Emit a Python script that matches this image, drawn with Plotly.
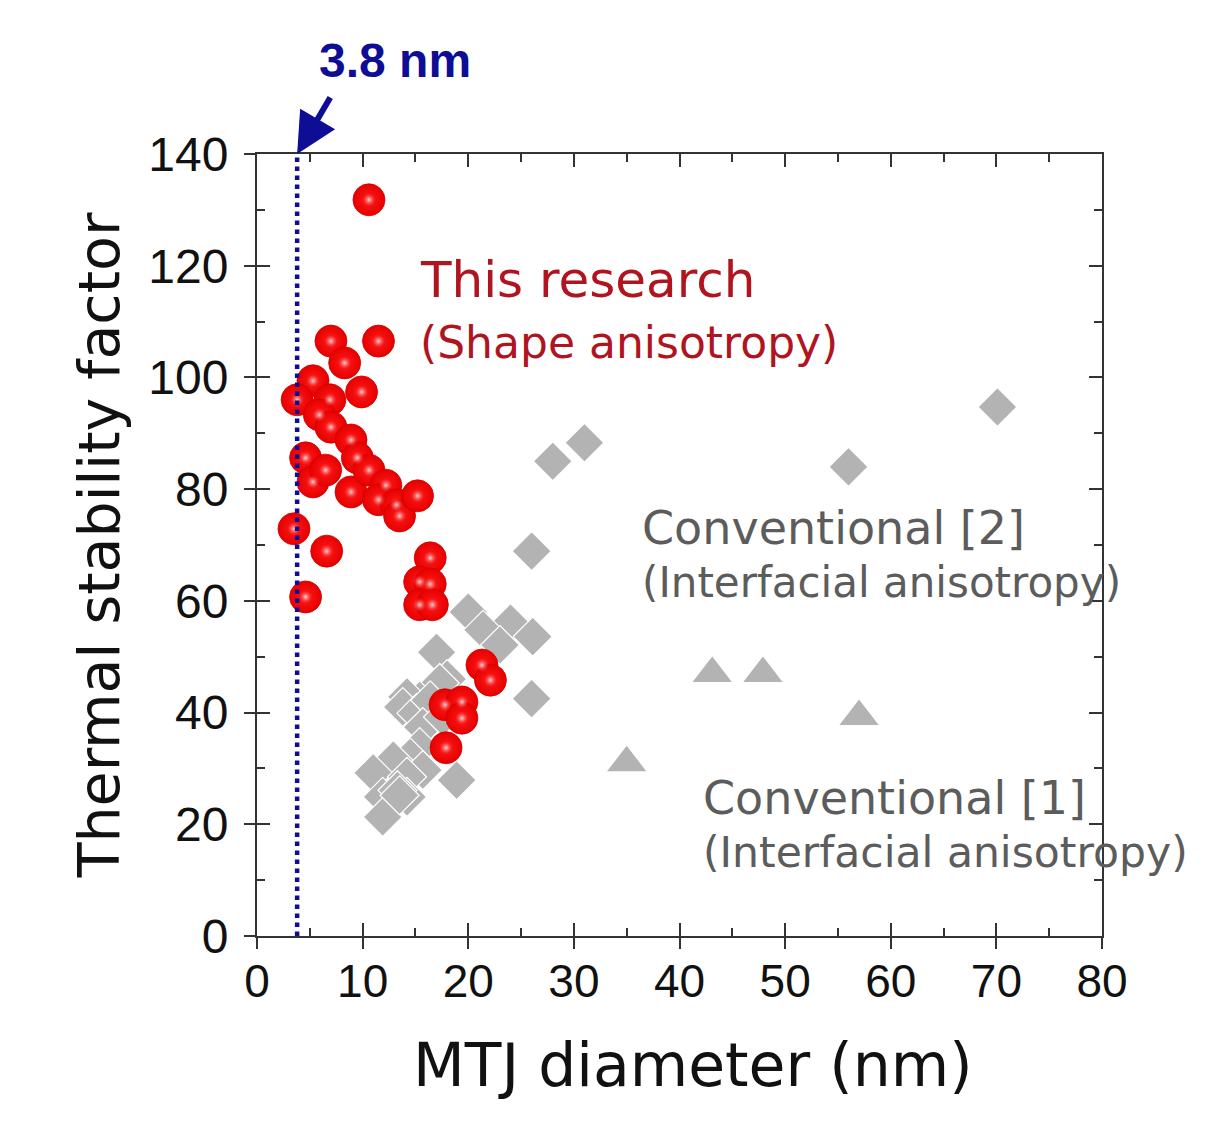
import plotly.graph_objects as go

# ---- data ----
this_research_x = [10.6, 7.0, 11.5, 8.3, 9.9, 5.3, 3.8, 6.9, 5.9, 7.0, 8.9, 9.5, 4.6, 5.3, 6.5,
                   8.9, 10.6, 12.2, 11.5, 13.2, 13.5, 15.2, 3.5, 6.6, 16.4, 15.4, 16.4, 15.4,
                   16.6, 4.6, 21.3, 22.1, 17.8, 19.4, 19.4, 17.9]
this_research_y = [131.8, 106.5, 106.5, 102.6, 97.4, 99.4, 96.0, 96.0, 93.3, 91.1, 88.8, 85.6,
                   85.6, 81.3, 83.4, 79.5, 83.4, 80.7, 78.1, 77.2, 75.2, 78.8, 72.9, 68.9,
                   67.7, 63.4, 63.0, 59.3, 59.3, 60.7, 48.5, 45.8, 41.4, 41.9, 39.0, 33.7]

conv2_x = [70.1, 56.0, 31.0, 28.0, 26.0, 20.0, 24.0, 21.4, 26.1, 23.0, 17.0, 18.0, 26.0, 17.3,
           15.4, 14.2, 13.8, 15.1, 16.4, 15.7, 17.6, 15.4, 14.5, 12.9, 11.0, 15.7, 14.2, 18.9,
           11.9, 14.2, 11.9, 13.3, 13.5]
conv2_y = [94.7, 84.0, 88.3, 85.0, 68.9, 58.0, 56.0, 54.8, 53.6, 52.1, 50.8, 46.0, 42.5, 45.3,
           42.2, 42.8, 41.0, 39.9, 42.2, 37.4, 39.2, 33.8, 32.0, 31.5, 29.2, 29.7, 28.5, 27.9,
           24.9, 24.9, 21.3, 26.1, 25.2]

conv1_x = [35.0, 43.1, 47.9, 57.0]
conv1_y = [31.0, 47.0, 47.0, 39.3]

limit_x = 3.8
x_range = [0, 80]
y_range = [0, 140]
x_ticks = [0, 10, 20, 30, 40, 50, 60, 70, 80]
y_ticks = [0, 20, 40, 60, 80, 100, 120, 140]

GRAY = "#b3b3b3"
NAVY = "#0d0d96"
AX = "#333333"
TXT = "DejaVu Sans"
RED_TXT = "#b0141e"
GRAY_TXT = "#5c5c5c"

# page has an 8px body margin; compensate so the plot lands where the reference has it
BODY = 8
W, H = 1214 - 2 * BODY, 1129 - 2 * BODY
ML, MT = 257 - BODY, 154 - BODY
PW, PH = 845, 782
MR, MB = W - ML - PW, H - MT - PH

fig = go.Figure()

fig.add_trace(go.Scatter(
    x=conv2_x, y=conv2_y, mode="markers", showlegend=False,
    marker=dict(symbol="diamond", size=30, color=GRAY, line=dict(color="white", width=1.2)),
))
fig.add_trace(go.Scatter(
    x=conv1_x, y=conv1_y, mode="markers", showlegend=False,
    marker=dict(symbol="triangle-up", size=34, color=GRAY, line=dict(width=0)),
))
fig.add_trace(go.Scatter(
    x=this_research_x, y=this_research_y, mode="markers", showlegend=False,
    marker=dict(symbol="circle", size=32, color="#e60000",
                gradient=dict(type="radial", color="#ff1a1a"),
                line=dict(color="#d40000", width=0.8)),
))
# glossy highlight on the spheres
fig.add_trace(go.Scatter(
    x=this_research_x, y=this_research_y, mode="markers", showlegend=False,
    hoverinfo="skip",
    marker=dict(symbol="circle", size=14, color="rgba(255,40,40,0)",
                gradient=dict(type="radial", color="rgba(255,228,228,0.95)"),
                line=dict(width=0)),
))
# empty trace so the overlay (outside-tick) axes are drawn
fig.add_trace(go.Scatter(x=[], y=[], xaxis="x2", yaxis="y2", showlegend=False,
                         hoverinfo="skip"))

# vertical dotted limit line
fig.add_shape(type="line", xref="x", yref="y", x0=limit_x, x1=limit_x,
              y0=y_range[0], y1=y_range[1], line=dict(color=NAVY, width=4.5, dash="dot"))

# arrow + label
fig.add_annotation(x=limit_x, y=y_range[1], xref="x", yref="y", text="",
                   showarrow=True, arrowhead=2, arrowsize=1.35, arrowwidth=6,
                   arrowcolor=NAVY, ax=34, ay=-58, standoff=0)
fig.add_annotation(x=(395 - BODY - ML) / PW, y=(MT + PH - (60 - BODY)) / PH,
                   xref="paper", yref="paper", xanchor="center", yanchor="middle",
                   text="<b>3.8 nm</b>", showarrow=False,
                   font=dict(family="Liberation Sans", size=48, color=NAVY))

# x-axis title (placed as annotation to match its slight right offset)
fig.add_annotation(x=(693 - BODY - ML) / PW, y=(MT + PH - (1065 - BODY)) / PH,
                   xref="paper", yref="paper", xanchor="center", yanchor="middle",
                   text="MTJ diameter (nm)", showarrow=False,
                   font=dict(family=TXT, size=60, color="#111111"))


def add_label(x, y, text, size, color):
    fig.add_annotation(x=x, y=y, xref="x", yref="y", text=text, showarrow=False,
                       xanchor="left", yanchor="middle",
                       font=dict(family=TXT, size=size, color=color))


add_label(15.2, 117.5, "This research", 50, RED_TXT)
add_label(15.2, 106.3, "(Shape anisotropy)", 44, RED_TXT)
add_label(36.3, 73.0, "Conventional [2]", 46, GRAY_TXT)
add_label(36.3, 63.2, "(Interfacial anisotropy)", 42, GRAY_TXT)
add_label(42.0, 24.7, "Conventional [1]", 46, GRAY_TXT)
add_label(42.0, 14.9, "(Interfacial anisotropy)", 42.5, GRAY_TXT)

axis_common = dict(showline=True, linecolor=AX, linewidth=2, showgrid=False, zeroline=False)

fig.update_layout(
    width=W, height=H,
    margin=dict(l=ML, r=MR, t=MT, b=MB, pad=0),
    paper_bgcolor="white", plot_bgcolor="white",
    xaxis=dict(range=x_range, tickvals=x_ticks, ticks="inside", ticklen=13, tickwidth=2,
               tickcolor=AX, mirror="allticks", ticklabelstandoff=4,
               minor=dict(dtick=5, ticks="inside", ticklen=8, tickwidth=2, tickcolor=AX),
               tickfont=dict(family="Liberation Sans", size=46, color="#111111"),
               **axis_common),
    yaxis=dict(range=y_range, tickvals=y_ticks, ticks="inside", ticklen=13, tickwidth=2,
               tickcolor=AX, mirror="allticks", ticklabelstandoff=17,
               minor=dict(dtick=10, ticks="inside", ticklen=8, tickwidth=2, tickcolor=AX),
               tickfont=dict(family="Liberation Sans", size=48, color="#111111"),
               title=dict(text="Thermal stability factor", standoff=10,
                          font=dict(family=TXT, size=57, color="#111111")),
               **axis_common),
    xaxis2=dict(range=x_range, overlaying="x", anchor="y2", side="bottom",
                tickvals=x_ticks, ticks="outside", ticklen=12, tickwidth=2,
                tickcolor=AX, showticklabels=False, showline=False, showgrid=False,
                zeroline=False),
    yaxis2=dict(range=y_range, overlaying="y", anchor="x2", side="left",
                tickvals=y_ticks, ticks="outside", ticklen=12, tickwidth=2,
                tickcolor=AX, showticklabels=False, showline=False, showgrid=False,
                zeroline=False),
)

fig.write_html("out.html")
